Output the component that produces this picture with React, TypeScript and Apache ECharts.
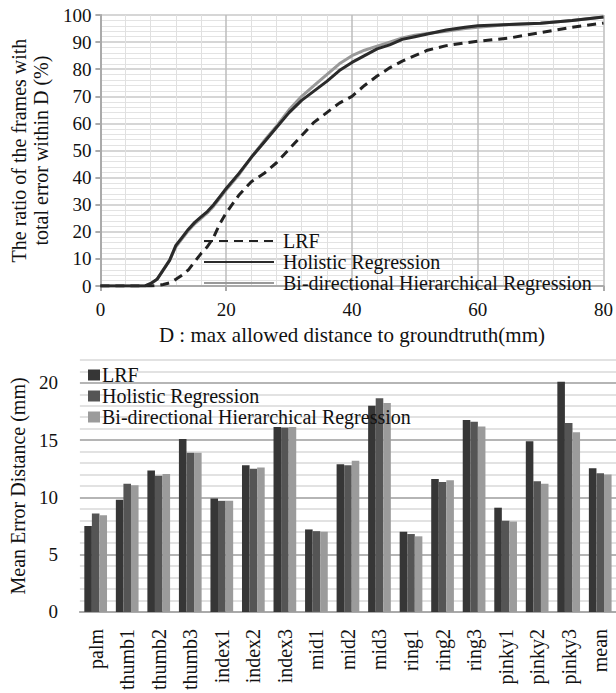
import React, { useEffect, useRef } from "react";
import * as echarts from "echarts";

const FONT = "Liberation Serif, Times New Roman, serif";

// Top chart: cumulative ratio vs max allowed distance D
const distD = [0, 7, 8, 9, 10, 11, 12, 13, 14, 15, 16, 17, 18, 19, 20, 22, 24, 26, 28, 30, 32, 34, 36, 38, 40, 42, 44, 46, 48, 50, 52, 55, 58, 60, 65, 70, 75, 80];
const lrfCurve = [0, 0, 0, 0.2, 0.6, 1.2, 2.5, 4, 6, 9, 12, 14.5, 18, 23, 27, 33.5, 38.5, 41.5, 45.5, 50.5, 55.5, 60.5, 64, 67.5, 70, 74, 77.5, 80.5, 83, 85, 87, 88.7, 89.7, 90.3, 91.5, 93.5, 95.5, 97];
const holisticCurve = [0, 0, 1, 2.5, 6, 9.5, 15, 18, 21, 23.5, 25.5, 27.5, 30, 33, 36, 41.5, 47.5, 53, 58.5, 64, 68.5, 72, 75.5, 79.5, 82.5, 85, 87.5, 89, 91, 92, 93, 94.5, 95.5, 96, 96.5, 97, 98, 99.3];
const bidirCurve = [0, 0, 0.8, 2.5, 6, 9.5, 14.5, 17.5, 20.5, 23, 25, 27, 29.5, 32.5, 35.5, 41, 47.5, 53.5, 59, 65, 70, 74, 78, 82, 85, 87, 88.5, 90, 91.5, 92.5, 93.2, 94, 95, 95.5, 96.5, 97, 98, 99.3];

// Bottom chart: mean error per joint
const joints = ["palm", "thumb1", "thumb2", "thumb3", "index1", "index2", "index3", "mid1", "mid2", "mid3", "ring1", "ring2", "ring3", "pinky1", "pinky2", "pinky3", "mean"];
const lrfErr = [7.5, 9.8, 12.35, 15.1, 9.9, 12.8, 16.15, 7.2, 12.9, 18.0, 7.0, 11.6, 16.75, 9.1, 14.9, 20.1, 12.55];
const holisticErr = [8.6, 11.2, 11.9, 13.9, 9.7, 12.5, 16.1, 7.05, 12.8, 18.65, 6.8, 11.35, 16.6, 7.95, 11.4, 16.5, 12.1];
const bidirErr = [8.45, 11.05, 12.05, 13.9, 9.7, 12.6, 16.15, 7.0, 13.2, 18.25, 6.6, 11.5, 16.2, 7.9, 11.2, 15.7, 12.0];

const names = ["LRF", "Holistic Regression", "Bi-directional Hierarchical Regression"];

function pairs(xs: number[], ys: number[]) {
  return xs.map((x, i) => [x, ys[i]]);
}

export default function App() {
  const topRef = useRef<HTMLDivElement>(null);
  const botRef = useRef<HTMLDivElement>(null);

  useEffect(() => {
    document.body.style.margin = "0";
    const top = echarts.init(topRef.current!, undefined, { renderer: "svg" });
    const bot = echarts.init(botRef.current!, undefined, { renderer: "svg" });

    const txt = (size: number) => ({ fontFamily: FONT, fontSize: size, color: "#111" });

    top.setOption({
      animation: false,
      backgroundColor: "#fff",
      textStyle: { fontFamily: FONT },
      grid: { left: 93, right: 11, top: 15, height: 280 },
      legend: {
        orient: "vertical",
        left: 198,
        top: 226,
        itemWidth: 70,
        itemHeight: 12,
        itemGap: 1,
        itemStyle: { opacity: 0 },
        textStyle: { ...txt(20), padding: [0, 0, 0, 4] },
        data: names,
      },
      xAxis: {
        type: "value",
        min: 0,
        max: 80,
        interval: 20,
        name: "D : max allowed distance to groundtruth(mm)",
        nameLocation: "middle",
        nameGap: 35,
        nameTextStyle: txt(21),
        axisLine: { show: true, lineStyle: { color: "#aaa", width: 2 } },
        axisTick: { show: true, length: 5, lineStyle: { color: "#aaa", width: 2 } },
        axisLabel: { ...txt(19), margin: 14 },
        splitLine: { show: true, lineStyle: { color: "#bdbdbd", width: 1.5 } },
        minorTick: { show: false, splitNumber: 5 },
        minorSplitLine: { show: true, lineStyle: { color: "#e0e0e0", width: 1 } },
      },
      yAxis: {
        type: "value",
        min: 0,
        max: 100,
        interval: 10,
        name: "The ratio of the frames with\ntotal error within D (%)",
        nameLocation: "middle",
        nameGap: 42,
        nameTextStyle: { ...txt(20), lineHeight: 22 },
        axisLine: { show: true, lineStyle: { color: "#aaa", width: 2 } },
        axisTick: { show: true, length: 5, lineStyle: { color: "#aaa", width: 2 } },
        axisLabel: { ...txt(19), margin: 9 },
        splitLine: { show: true, lineStyle: { color: "#c8c8c8", width: 1.5 } },
        minorTick: { show: false, splitNumber: 5 },
        minorSplitLine: { show: true, lineStyle: { color: "#e3e3e3", width: 1 } },
      },
      series: [
        {
          name: names[0],
          type: "line",
          symbol: "none",
          data: pairs(distD, lrfCurve),
          lineStyle: { color: "#222", width: 3, type: [9, 6] },
          itemStyle: { color: "#222" },
          z: 3,
        },
        {
          name: names[1],
          type: "line",
          symbol: "none",
          data: pairs(distD, holisticCurve),
          lineStyle: { color: "#2a2a2a", width: 3 },
          itemStyle: { color: "#2a2a2a" },
          z: 4,
        },
        {
          name: names[2],
          type: "line",
          symbol: "none",
          data: pairs(distD, bidirCurve),
          lineStyle: { color: "#999", width: 3 },
          itemStyle: { color: "#999" },
          z: 2,
        },
      ],
    });

    bot.setOption({
      animation: false,
      backgroundColor: "#fff",
      textStyle: { fontFamily: FONT },
      grid: { left: 75, right: -9, top: 10, height: 255 },
      legend: {
        orient: "vertical",
        left: 83,
        top: 10,
        itemWidth: 12,
        itemHeight: 11,
        itemGap: 1,
        icon: "rect",
        textStyle: { ...txt(20), padding: [0, 0, 0, -3] },
        data: names,
      },
      xAxis: {
        type: "category",
        data: joints,
        axisLine: { show: true, lineStyle: { color: "#aaa", width: 2 } },
        axisTick: { show: false },
        axisLabel: { ...txt(20), rotate: 90, margin: 17, interval: 0 },
      },
      yAxis: {
        type: "value",
        min: 0,
        max: 22,
        interval: 1,
        name: "Mean Error Distance (mm)",
        nameLocation: "middle",
        nameGap: 46,
        nameTextStyle: txt(20),
        axisLine: { show: false },
        axisTick: { show: false },
        axisLabel: {
          ...txt(19),
          margin: 22,
          formatter: (v: number) => (v % 5 === 0 ? String(v) : ""),
        },
        splitLine: {
          show: true,
          lineStyle: { color: ["#b5b5b5", "#e2e2e2", "#e2e2e2", "#e2e2e2", "#e2e2e2"], width: 2 },
        },
      },
      series: [
        { name: names[0], type: "bar", data: lrfErr, itemStyle: { color: "#363636" }, barGap: "0%", barCategoryGap: "28%" },
        { name: names[1], type: "bar", data: holisticErr, itemStyle: { color: "#555555" } },
        { name: names[2], type: "bar", data: bidirErr, itemStyle: { color: "#9b9b9b" } },
      ],
    });

    return () => {
      top.dispose();
      bot.dispose();
    };
  }, []);

  return (
    <div style={{ position: "absolute", left: 0, top: 0, width: 616, height: 693, background: "#fff" }}>
      <div ref={topRef} style={{ position: "absolute", left: 0, top: 0, width: 616, height: 350 }} />
      <div ref={botRef} style={{ position: "absolute", left: 0, top: 350, width: 616, height: 343 }} />
    </div>
  );
}
